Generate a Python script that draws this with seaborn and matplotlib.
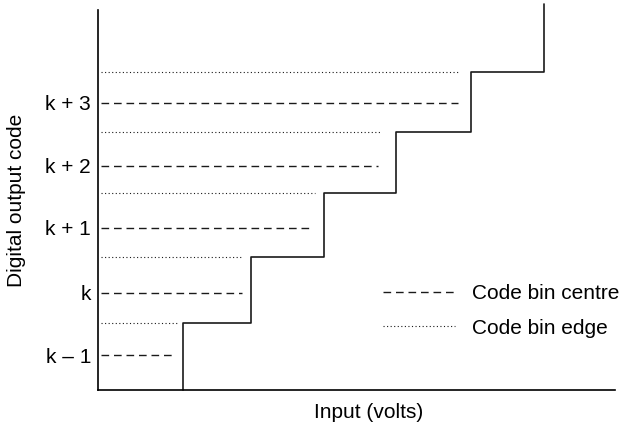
import numpy as np
import pandas as pd
import matplotlib
matplotlib.use("Agg")
import matplotlib.pyplot as plt
import seaborn as sns

# ---- data ----
code_labels = ["k \u2013 1", "k", "k + 1", "k + 2", "k + 3"]
code_centres = [0.0, 1.0, 2.03, 3.02, 4.02]          # centre level of each code bin
code_edges = [0.52, 1.56, 2.58, 3.55, 4.52]          # upper edge level of each code bin
transitions = [1.18, 2.125, 3.14, 4.14, 5.18, 6.19]  # input value at each step
centre_line_ends = [1.07, 2.0, 2.94, 3.89, 5.0]
edge_line_ends = [1.10, 1.99, 3.01, 3.93, 5.03]
line_start = 0.04
y_bottom, y_top, stair_top = -0.55, 5.5, 5.6
x_max = 7.18

sns.set_theme(style="white")
plt.rcParams["font.family"] = ["Liberation Sans", "DejaVu Sans"]
plt.rcParams["text.color"] = "black"
plt.rcParams["axes.labelcolor"] = "black"
plt.rcParams["ytick.color"] = "black"

fig = plt.figure(figsize=(6.36, 4.28), dpi=100)
ax = fig.add_axes([98 / 636, 38 / 428, 517 / 636, 380 / 428])

# staircase transfer function
sx, sy = [transitions[0]], [y_bottom]
for i, e in enumerate(code_edges):
    sx += [transitions[i], transitions[i + 1]]
    sy += [e, e]
sx.append(transitions[-1])
sy.append(stair_top)
stair = pd.DataFrame({"x": sx, "y": sy})
sns.lineplot(data=stair, x="x", y="y", sort=False, estimator=None,
             color="#1a1a1a", lw=1.2, ax=ax, clip_on=False)

# centre (dashed) and edge (dotted) lines
ax.hlines(code_centres, line_start, centre_line_ends, colors="#1a1a1a",
          linestyles=(0, (5.5, 3.5)), lw=1.0, label="Code bin centre")
ax.hlines(code_edges, line_start, edge_line_ends, colors="#1a1a1a",
          linestyles=(0, (1, 2.2)), lw=0.8, label="Code bin edge")

ax.set_xlim(0, x_max)
ax.set_ylim(y_bottom, y_top)
ax.set_xticks([])
ax.set_yticks(code_centres)
ax.set_yticklabels(code_labels, fontsize=15, color="black")
ax.tick_params(axis="y", length=0, pad=5)
ax.set_xlabel("Input (volts)", fontsize=15, color="black")
ax.set_ylabel("Digital output code", fontsize=15, color="black")
ax.yaxis.set_label_coords(-0.14, 0.5)
ax.xaxis.set_label_coords(0.524, -0.035)

sns.despine(ax=ax)
for s in ("left", "bottom"):
    ax.spines[s].set_color("black")
    ax.spines[s].set_linewidth(1.2)

leg = ax.legend(loc="upper left", bbox_to_anchor=(383 / 636, 1 - 284 / 428),
                bbox_transform=fig.transFigure, frameon=False, fontsize=15,
                handlelength=3.45, handletextpad=0.8, labelspacing=0.75,
                borderpad=0, borderaxespad=0)
for t in leg.get_texts():
    t.set_color("black")

fig.savefig("out.png", dpi=100)
